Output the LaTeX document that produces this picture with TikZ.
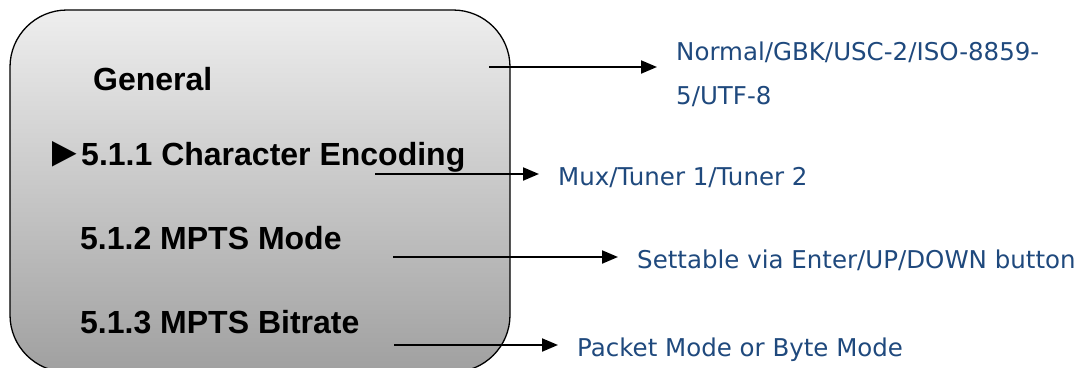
\documentclass[tikz,border=0pt]{standalone}
\usepackage{fontspec}
\setmainfont{Liberation Sans}
\newfontfamily\notefont{DejaVu Sans}
\usetikzlibrary{arrows.meta}
\definecolor{notecol}{RGB}{31,73,125}
\definecolor{paneltop}{RGB}{238,238,238}
\definecolor{panelbot}{RGB}{160,160,160}
\newcommand{\menumark}{\raisebox{-1.2pt}{\mdseries\scalebox{1.28}[1.34]{►}}\kern-3.5pt}
\tikzset{
  menuitem/.style={anchor=base west, inner sep=0pt, font=\fontsize{32}{38}\selectfont\bfseries},
  note/.style={anchor=base west, inner sep=0pt, text=notecol,
    font=\notefont\fontsize{24.5}{30}\selectfont},
  pointer/.style={line width=2pt, -{Triangle[length=16pt, width=13pt]}, shorten >=19pt},
  panel/.style={draw=black, line width=1.3pt, rounded corners=57pt,
    top color=paneltop, bottom color=panelbot}
}
\begin{document}
\begin{tikzpicture}[x=1pt, y=-1pt]
  \useasboundingbox (0,0) rectangle (1076,367);
  % menu panel (its lower edge runs past the page)
  \path[panel] (10,10) rectangle (510,372);

  % menu entries
  \node[menuitem] (gen)  at (93,90)  {General};
  \node[menuitem] (enc)  at (44,165) {\menumark 5.1.1 Character Encoding};
  \node[menuitem] (mode) at (80,249) {5.1.2 MPTS Mode};
  \node[menuitem] (rate) at (80,333) {5.1.3 MPTS Bitrate};

  % option descriptions
  \node[note] (tgen)  at (676,60)  {Normal/GBK/USC-2/ISO-8859-};
  \node[note] (tgenb) at (676,104) {5/UTF-8};
  \node[note] (tenc)  at (558,185) {Mux/Tuner 1/Tuner 2};
  \node[note] (tmode) at (637,268) {Settable via Enter/UP/DOWN button};
  \node[note] (trate) at (577,356) {Packet Mode or Byte Mode};

  % arrow starts
  \coordinate (sgen)  at (489,67);
  \coordinate (senc)  at (375,174);
  \coordinate (smode) at (393,257);
  \coordinate (srate) at (394,345);

  \draw[pointer] (sgen)  -- (tgen.west |- sgen);
  \draw[pointer] (senc)  -- (tenc.west |- senc);
  \draw[pointer] (smode) -- (tmode.west |- smode);
  \draw[pointer] (srate) -- (trate.west |- srate);
\end{tikzpicture}
\end{document}
